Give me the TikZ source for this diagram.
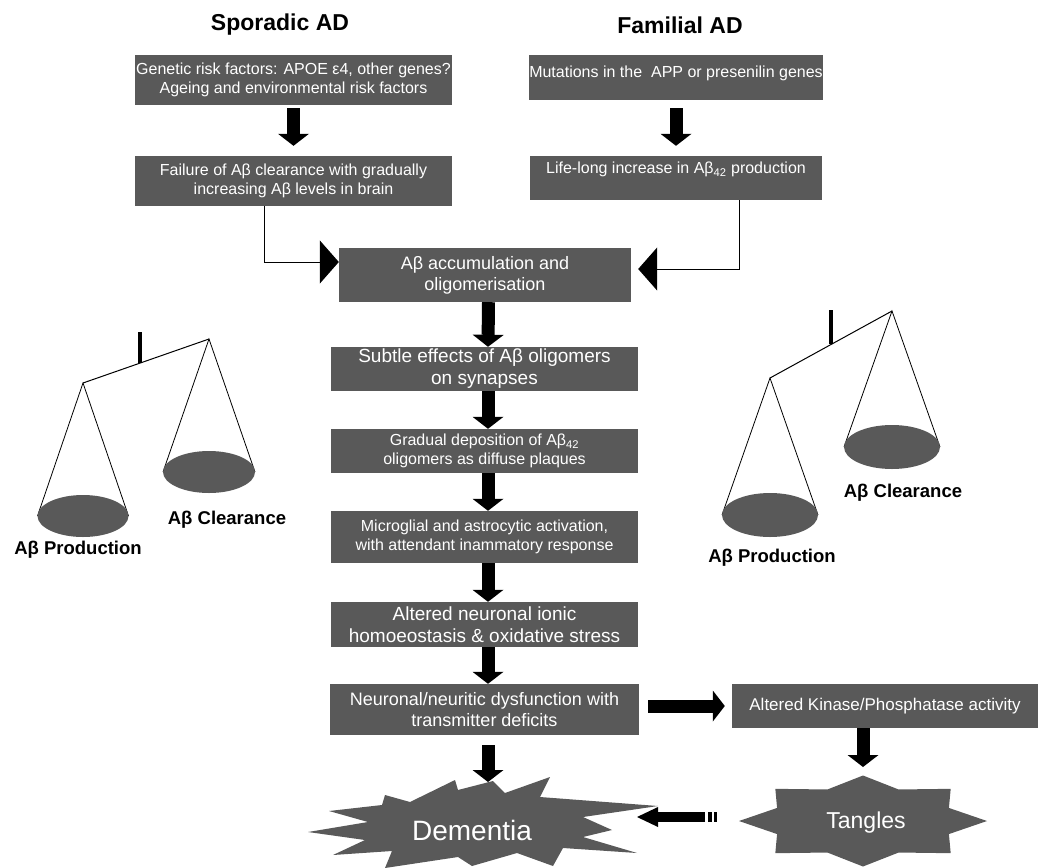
\documentclass[tikz,border=0pt]{standalone}
\usepackage{fontspec}
\setmainfont{Liberation Sans}
\usetikzlibrary{arrows.meta, calc}
\definecolor{boxgray}{RGB}{89,89,89}

\begin{document}
\begin{tikzpicture}[x=1pt, y=-1pt,
  box/.style={fill=boxgray, text=white, inner sep=0pt, align=center,
              font=\fontsize{16}{19}\selectfont},
  bigarrow/.style={line width=13pt, -{Triangle[length=12pt, width=31pt, line width=0pt]}},
  thinarrow/.style={line width=1pt, -{Triangle[length=19pt, width=43pt]}},
  title/.style={font=\fontsize{23}{26}\selectfont\bfseries},
  pan/.style={fill=boxgray},
  cord/.style={line width=0.8pt},
  panlabel/.style={font=\fontsize{18.5}{22}\selectfont\bfseries}]
  \useasboundingbox (0,0) rectangle (1045,868);

  % titles
  \node[title] (spor) at (280,25) {Sporadic AD};
  \node[title] (fam) at (680,25) {Familial AD};

  % sporadic side
  \node[box, minimum width=317pt, minimum height=50pt] (risk) at (293.5,80)
    {Genetic risk factors: APOE ε4, other genes?\\Ageing and environmental risk factors};
  \node[box, minimum width=317pt, minimum height=50pt] (fail) at (293.5,181)
    {Failure of Aβ clearance with gradually\\increasing Aβ levels in brain};
  \draw[bigarrow, shorten <=3pt, shorten >=10pt] (risk.south) -- (fail.north);

  % familial side
  \node[box, minimum width=292pt, minimum height=45pt, text depth=12pt] (mut) at (676,77.5)
    {Mutations in the \ APP or presenilin genes};
  \node[box, minimum width=292pt, minimum height=44pt, text depth=20pt] (life) at (676,178)
    {Life-long increase in Aβ\textsubscript{42} production};
  \draw[bigarrow, shorten <=8pt, shorten >=10pt] (mut.south) -- (life.north);

  % main cascade
  \node[box, minimum width=292pt, minimum height=54pt, font=\fontsize{18}{21}\selectfont] (accum)
    at (485,275) {Aβ accumulation and\\oligomerisation};
  \draw[thinarrow] ([xshift=-29.5pt]fail.south) |- ([yshift=13pt]accum.west);
  \draw[thinarrow, shorten >=7pt] ([xshift=63pt]life.south) |- ([yshift=6pt]accum.east);

  \node[box, minimum width=307pt, minimum height=44pt, font=\fontsize{19}{22}\selectfont] (subtle)
    at (484.5,369) {Subtle effects of Aβ oligomers\\on synapses};
  \node[box, minimum width=307pt, minimum height=44pt] (depo) at (484.5,451)
    {Gradual deposition of Aβ\textsubscript{42}\\oligomers as diffuse plaques};
  \node[box, minimum width=307pt, minimum height=52pt] (glia) at (484.5,537)
    {Microglial and astrocytic activation,\\with attendant inammatory response};
  \node[box, minimum width=307pt, minimum height=45pt, font=\fontsize{19}{22}\selectfont] (ionic)
    at (484.5,624.5) {Altered neuronal ionic\\homoeostasis \& oxidative stress};
  \node[box, minimum width=309pt, minimum height=51pt, font=\fontsize{18}{21}\selectfont] (neuro)
    at (484.5,709.5) {Neuronal/neuritic dysfunction with\\transmitter deficits};
  \foreach \a/\b in {accum/subtle, subtle/depo, depo/glia, glia/ionic, ionic/neuro}
    \draw[bigarrow] ([xshift=3.5pt]\a.south) -- ([xshift=3.5pt]\b.north);

  % tau branch
  \node[box, minimum width=306pt, minimum height=44pt, font=\fontsize{17}{20}\selectfont] (kinase)
    at (885,706) {Altered Kinase/Phosphatase activity};
  \draw[bigarrow, shorten <=9pt, shorten >=7pt] (neuro.east |- kinase.west) -- (kinase.west);

  % Dementia burst
  \coordinate (dmc) at (483,822);
  \coordinate (dmtop) at (488,782);
  \coordinate (dmright) at (637,817);
  \fill[boxgray, shift={(dmc)}] (-175,10) -- (-115,0) -- (-154,-11) -- (-101,-17) -- (-98,-27)
    -- (-73,-20) -- (-28,-42) -- (-25,-32) -- (10,-41) -- (22,-29) -- (67,-45) -- (57,-25)
    -- (175,-16) -- (100,-5) -- (129,8) -- (100,15) -- (154,31) -- (80,26) -- (70,44)
    -- (34,31) -- (-11,44) -- (-25,35) -- (-98,46) -- (-91,29) -- (-150,33) -- (-118,18) -- cycle;
  \node[font=\fontsize{28}{32}\selectfont, text=white] (dem) at (472,830) {Dementia};
  \draw[bigarrow, shorten <=10pt] (neuro.south -| dmtop) -- (dmtop);

  % Tangles star
  \coordinate (tgc) at (863,821);
  \coordinate (tgtop) at (863,776);
  \fill[boxgray, shift={(tgc)}] plot[samples at={0,1,...,15}]
    ({(1-0.25*mod(\x,2))*124*cos(22.5*\x)}, {(1-0.25*mod(\x,2))*45.5*sin(22.5*\x)}) -- cycle;
  \node[font=\fontsize{23}{27}\selectfont, text=white] (tg) at (866,823) {Tangles};
  \draw[bigarrow, shorten >=9pt] (kinase.south -| tgtop) -- (tgtop);

  % striped arrow back to Dementia
  \coordinate (stripe) at (705,817);
  \draw[line width=10pt, -{Triangle[length=21pt, width=20pt, line width=0pt]}] (stripe) -- (dmright);
  \fill (708,812) rectangle (712,822);
  \fill (714,812) rectangle (717,822);

  % left balance
  \draw[line width=3.5pt] (140,332) -- (140,363);
  \draw[line width=1pt] (83,383) -- (209,339);
  \draw[cord] (37.5,516) -- (83,383) -- (128.5,516);
  \fill[pan] (83,516) ellipse [x radius=45.5, y radius=21];
  \draw[cord] (163,472) -- (209,339) -- (255,472);
  \fill[pan] (209,472) ellipse [x radius=46, y radius=21];
  \node[panlabel] (clrL) at (227,520) {Aβ Clearance};
  \node[panlabel] (prodL) at (78,550) {Aβ Production};

  % right balance
  \draw[line width=3.5pt] (831,310) -- (831,344);
  \draw[line width=1pt] (770,378) -- (892,311);
  \draw[cord] (722,515) -- (770,378) -- (818,515);
  \fill[pan] (770,515) ellipse [x radius=48, y radius=22];
  \draw[cord] (844,447) -- (892,311) -- (940,447);
  \fill[pan] (892,447) ellipse [x radius=48, y radius=22];
  \node[panlabel] (clrR) at (903,493) {Aβ Clearance};
  \node[panlabel] (prodR) at (772,558) {Aβ Production};
\end{tikzpicture}
\end{document}
